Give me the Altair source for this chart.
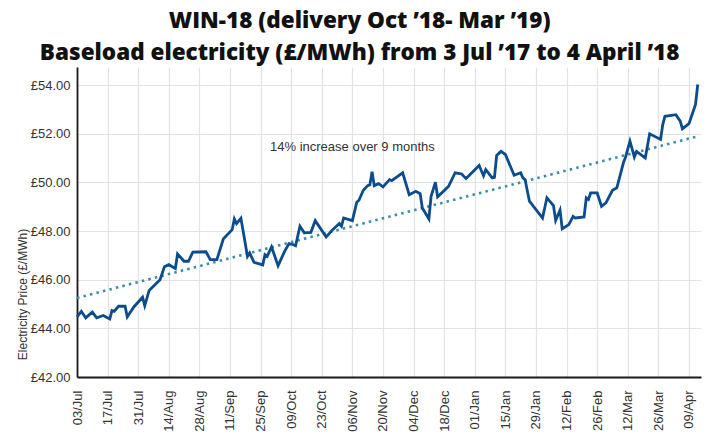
import altair as alt
import pandas as pd

# ---- data ----
dates = [
    "2017-07-03", "2017-07-05", "2017-07-07", "2017-07-10", "2017-07-12", "2017-07-15",
    "2017-07-18", "2017-07-19", "2017-07-20", "2017-07-22", "2017-07-25", "2017-07-26",
    "2017-07-29", "2017-08-02", "2017-08-03", "2017-08-05", "2017-08-10", "2017-08-12",
    "2017-08-14", "2017-08-17", "2017-08-18", "2017-08-21", "2017-08-23", "2017-08-25",
    "2017-08-31", "2017-09-02", "2017-09-05", "2017-09-08", "2017-09-12", "2017-09-13",
    "2017-09-14", "2017-09-16", "2017-09-19", "2017-09-20", "2017-09-22", "2017-09-26",
    "2017-09-27", "2017-09-28", "2017-09-30", "2017-10-03", "2017-10-06", "2017-10-08",
    "2017-10-10", "2017-10-11", "2017-10-13", "2017-10-15", "2017-10-18", "2017-10-20",
    "2017-10-25", "2017-10-28", "2017-10-31", "2017-11-01", "2017-11-02", "2017-11-06",
    "2017-11-08", "2017-11-09", "2017-11-11", "2017-11-13", "2017-11-14", "2017-11-15",
    "2017-11-16", "2017-11-18", "2017-11-20", "2017-11-23", "2017-11-24", "2017-11-29",
    "2017-12-02", "2017-12-05", "2017-12-07", "2017-12-08", "2017-12-11", "2017-12-12",
    "2017-12-14", "2017-12-15", "2017-12-20", "2017-12-23", "2017-12-26", "2017-12-28",
    "2018-01-03", "2018-01-05", "2018-01-06", "2018-01-09", "2018-01-10", "2018-01-11",
    "2018-01-13", "2018-01-15", "2018-01-19", "2018-01-22", "2018-01-23", "2018-01-24",
    "2018-01-26", "2018-02-01", "2018-02-03", "2018-02-06", "2018-02-07", "2018-02-09",
    "2018-02-10", "2018-02-13", "2018-02-15", "2018-02-16", "2018-02-20", "2018-02-21",
    "2018-02-22", "2018-02-23", "2018-02-26", "2018-02-28", "2018-03-02", "2018-03-05",
    "2018-03-07", "2018-03-10", "2018-03-11", "2018-03-13", "2018-03-15", "2018-03-16",
    "2018-03-20", "2018-03-22", "2018-03-27", "2018-03-28", "2018-03-29", "2018-04-03",
    "2018-04-05", "2018-04-06", "2018-04-09", "2018-04-12", "2018-04-13",
]
prices = [
    44.47, 44.70, 44.43, 44.67, 44.43, 44.53,
    44.39, 44.73, 44.70, 44.91, 44.91, 44.47,
    44.88, 45.28, 44.93, 45.56, 46.00, 46.53,
    46.62, 46.46, 47.06, 46.76, 46.76, 47.14,
    47.15, 46.83, 46.83, 47.69, 48.06, 48.50,
    48.31, 48.53, 46.96, 47.10, 46.72, 46.61,
    47.03, 46.96, 47.35, 46.58, 47.17, 47.49,
    47.44, 47.40, 48.20, 47.93, 47.95, 48.43,
    47.76, 48.06, 48.31, 48.20, 48.54, 48.43,
    49.19, 49.27, 49.68, 49.87, 49.91, 50.44,
    49.87, 49.95, 49.82, 50.12, 50.08, 50.40,
    49.50, 49.64, 49.54, 48.95, 48.50, 49.43,
    50.01, 49.41, 49.84, 50.40, 50.35, 50.16,
    50.70, 50.28, 50.53, 50.19, 50.21, 51.11,
    51.28, 51.15, 50.30, 50.40, 50.19, 50.12,
    49.23, 48.54, 49.37, 49.05, 48.44, 48.86,
    48.09, 48.27, 48.61, 48.54, 48.58, 49.37,
    49.30, 49.57, 49.57, 49.02, 49.16, 49.68,
    49.78, 50.81, 51.05, 51.70, 51.05, 51.28,
    51.01, 52.00, 51.77, 52.38, 52.72, 52.79,
    52.52, 52.21, 52.42, 53.21, 54.03,
]
trend_dates = ["2017-07-03", "2018-04-13"]
trend_values = [45.25, 51.90]

tick_dates = [
    "2017-07-03", "2017-07-17", "2017-07-31", "2017-08-14", "2017-08-28", "2017-09-11",
    "2017-09-25", "2017-10-09", "2017-10-23", "2017-11-06", "2017-11-20", "2017-12-04",
    "2017-12-18", "2018-01-01", "2018-01-15", "2018-01-29", "2018-02-12", "2018-02-26",
    "2018-03-12", "2018-03-26", "2018-04-09",
]
y_ticks = [42, 44, 46, 48, 50, 52, 54]
y_domain = [42, 54.75]
x_domain = ["2017-07-03", "2018-04-14"]

annotation_text = ["14% increase over 9 months"]
annotation_date = ["2017-11-06"]
annotation_value = [51.45]

title_lines = [
    "WIN-18 (delivery Oct \u201918- Mar \u201919)",
    "Baseload electricity (\u00a3/MWh) from 3 Jul \u201917 to 4 April \u201918",
]
y_title = "Electricity Price (\u00a3/MWh)"


def dt(s, hours=0):
    t = pd.Timestamp(s)
    return alt.DateTime(year=t.year, month=t.month, date=t.day, hours=hours)


df = pd.DataFrame({"date": [d + "T00:00:00" for d in dates], "price": prices})
trend_df = pd.DataFrame({"date": [d + "T00:00:00" for d in trend_dates], "price": trend_values})
text_df = pd.DataFrame({
    "date": [d + "T00:00:00" for d in annotation_date],
    "price": annotation_value,
    "label": annotation_text,
})

x_enc = alt.X(
    "date:T",
    title=None,
    scale=alt.Scale(domain=[dt(x_domain[0]), dt(x_domain[1], hours=12)]),
    axis=alt.Axis(
        values=[dt(s) for s in tick_dates],
        format="%d/%b",
        labelAngle=270,
        labelFontSize=13,
        labelPadding=13,
        ticks=False,
        grid=True,
        labelFlush=False,
        labelOverlap=False,
    ),
)
y_enc = alt.Y(
    "price:Q",
    scale=alt.Scale(domain=y_domain, nice=False, zero=False),
    axis=alt.Axis(
        values=y_ticks,
        labelExpr="'\u00a3' + format(datum.value, '.2f')",
        title=y_title,
        titleFontSize=12,
        titleFontWeight="normal",
        titleAngle=270,
        titleX=-51,
        titleY=227,
        titleAlign="center",
        titleBaseline="alphabetic",
        labelFontSize=13,
        labelPadding=7,
        ticks=False,
        grid=True,
    ),
)

trend = alt.Chart(trend_df).mark_line(
    color="#3b8fa3", strokeWidth=2.6, strokeDash=[2.5, 4.2]
).encode(x=x_enc, y=y_enc)

line = alt.Chart(df).mark_line(
    color="#0b4c8c", strokeWidth=2.8, strokeJoin="miter"
).encode(x=x_enc, y=y_enc)

text = alt.Chart(text_df).mark_text(
    font="Liberation Sans", fontSize=13, color="#333333", align="center", baseline="middle"
).encode(x=x_enc, y=y_enc, text="label:N")

chart = alt.layer(trend, line, text).properties(
    width=624,
    height=310,
    autosize=alt.AutoSizeParams(type="none"),
    padding={"left": 69, "top": 59, "right": 6, "bottom": 62},
    title=alt.TitleParams(
        text=title_lines,
        font="Open Sans",
        fontSize=22.5,
        fontWeight=800,
        color="#111111",
        anchor="middle",
        frame="bounds",
        lineHeight=32,
        offset=3,
    ),
).configure_view(stroke=None).configure_axis(
    labelFont="Liberation Sans",
    titleFont="Liberation Sans",
    labelColor="#333333",
    titleColor="#333333",
    domainColor="#1a1a1a",
    domainWidth=1.8,
    gridColor="#e3e3e3",
    gridWidth=1.2,
)

chart.save("out.html", embed_options={"renderer": "svg", "actions": False})
